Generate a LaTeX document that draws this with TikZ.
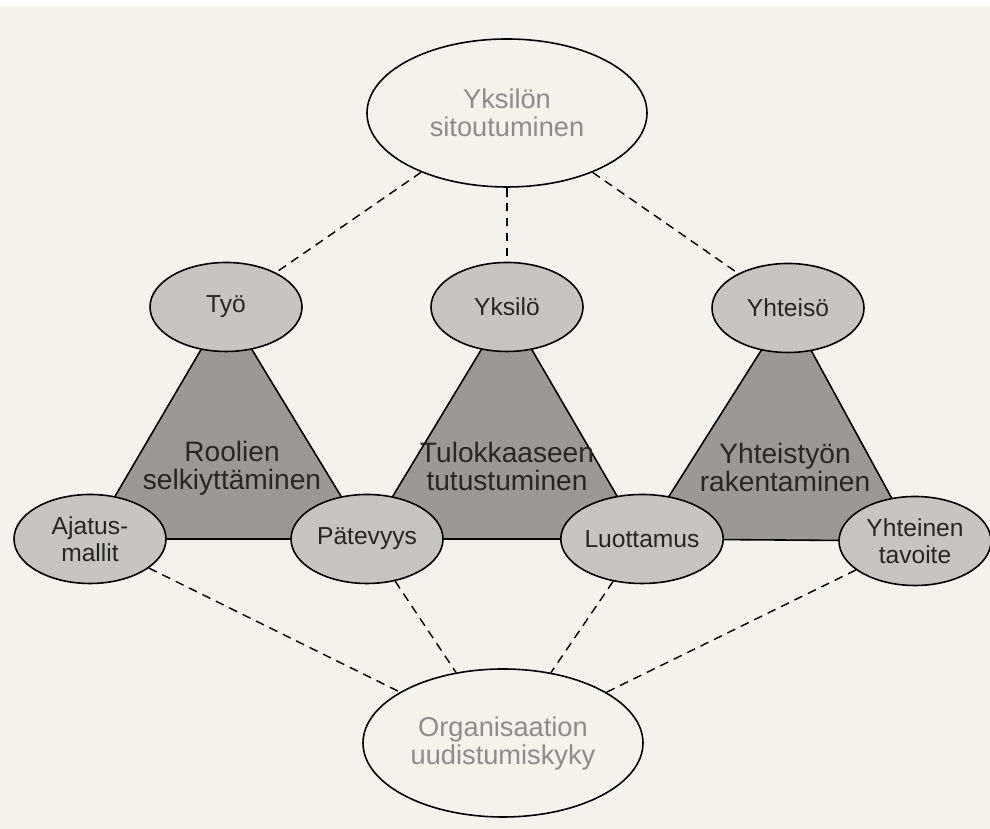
\documentclass[tikz,border=0pt]{standalone}
\usepackage{fontspec}
\setmainfont{Liberation Sans}
\usetikzlibrary{shapes.geometric}
\pgfdeclarelayer{background}
\pgfsetlayers{background,main}
\definecolor{paper}{HTML}{F4F2ED}
\definecolor{trigray}{HTML}{9A9997}
\definecolor{ballgray}{HTML}{C6C5C2}
\definecolor{textgray}{HTML}{8C8C8C}
\tikzset{
  goal/.style={ellipse, draw, line width=0.9pt, fill=paper, minimum width=5.6cm, minimum height=2.96cm, inner sep=0pt, align=center, text=textgray, font=\fontsize{15.5}{15.9}\selectfont},
  corner/.style={ellipse, draw, line width=0.9pt, fill=ballgray, minimum width=3.04cm, minimum height=1.78cm, inner sep=0pt, align=center, text=black!85, font=\fontsize{14}{15.4}\selectfont},
  area/.style={draw, line width=0.9pt, fill=trigray, line join=round},
  areatext/.style={align=center, text=black!85, font=\fontsize{16}{16.2}\selectfont},
  link/.style={dash pattern=on 5pt off 3.5pt, line width=0.8pt}
}
\begin{document}
\begin{tikzpicture}
        \useasboundingbox (0,0) rectangle (19.8,16.58);

        \node[goal] (sitoutuminen) at (10.14,14.32) {Yksilön\\sitoutuminen};
        \node[goal] (uudistuminen) at (10.06,1.72) {Organisaation\\uudistumiskyky};

        \node[corner] (tyo) at (4.52,10.44) {Työ};
        \node[corner] (yksilo) at (10.14,10.44) {Yksilö};
        \node[corner] (yhteiso) at (15.76,10.42) {Yhteisö};
        \node[corner] (ajatus) at (1.80,5.80) {Ajatus-\\mallit};
        \node[corner] (patevyys) at (7.34,5.80) {Pätevyys};
        \node[corner] (luottamus) at (12.84,5.80) {Luottamus};
        \node[corner] (tavoite) at (18.30,5.76) {Yhteinen\\tavoite};

        \node[areatext] (roolit) at (4.64,7.22) {Roolien\\selkiyttäminen};
        \node[areatext] (tulokas) at (10.14,7.25) {Tulokkaaseen\\tutustuminen};
        \node[areatext] (yhteistyo) at (15.70,7.23) {Yhteistyön\\rakentaminen};

        % triangles behind the ellipses
        \begin{pgfonlayer}{background}
        \fill[paper] (0,0) rectangle (19.8,16.58);
        \fill[white] (0,16.46) rectangle (19.8,16.58);
        \draw[area] (tyo.center) -- (ajatus.center) -- (patevyys.center) -- cycle;
        \draw[area] (yksilo.center) -- (patevyys.center) -- (luottamus.center) -- cycle;
        \draw[area] (yhteiso.center) -- (luottamus.center) -- (tavoite.center) -- cycle;
        \end{pgfonlayer}

        \draw[link] (sitoutuminen) -- (tyo);
        \draw[link] (sitoutuminen) -- (yksilo);
        \draw[link] (sitoutuminen) -- (yhteiso);
        \draw[link] (ajatus) -- (uudistuminen);
        \draw[link] (patevyys) -- (uudistuminen);
        \draw[link] (luottamus) -- (uudistuminen);
        \draw[link] (tavoite) -- (uudistuminen);
    \end{tikzpicture}
\end{document}
